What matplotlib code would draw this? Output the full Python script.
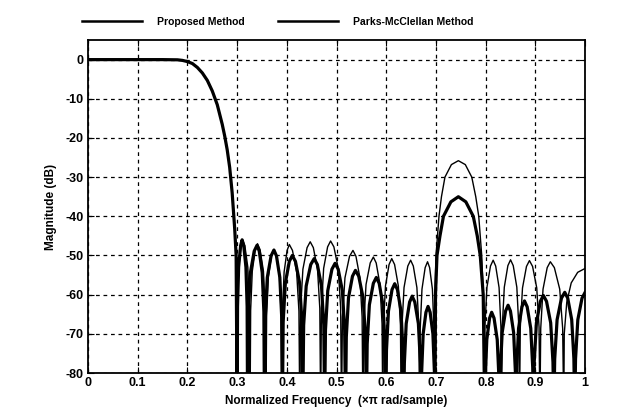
import numpy as np
from matplotlib import pyplot as plt

# passband + transition, same for both designs
passband_f = [0.0, 0.05, 0.1, 0.15, 0.18, 0.19, 0.2, 0.21, 0.22, 0.23, 0.24, 0.25,
              0.26, 0.27, 0.275, 0.28, 0.285, 0.29, 0.295, 0.298]
passband_db = [0, 0, 0, 0, -0.05, -0.2, -0.5, -1.0, -2.0, -3.4, -5.3, -8.0,
               -11.5, -16.5, -19.5, -23.0, -27.5, -34.0, -43.0, -50.0]

# stopband of the proposed method (thick line), one row per lobe
proposed_f = [0.300, 0.3008, 0.303, 0.307, 0.310, 0.3133, 0.3177, 0.3201,
              0.321, 0.3225, 0.3267, 0.3343, 0.340, 0.3445, 0.3505, 0.3538,
              0.355, 0.3565, 0.3607, 0.3683, 0.374, 0.3791, 0.3859, 0.3896,
              0.391, 0.3926, 0.397, 0.405, 0.411, 0.4173, 0.4257, 0.4303,
              0.432, 0.4338, 0.4389, 0.4481, 0.455, 0.4613, 0.4697, 0.4743,
              0.476, 0.4777, 0.4823, 0.4907, 0.497, 0.5033, 0.5117, 0.5163,
              0.518, 0.5196, 0.524, 0.532, 0.538, 0.5446, 0.5534, 0.5582,
              0.560, 0.5616, 0.566, 0.574, 0.580, 0.5857, 0.5933, 0.5975,
              0.599, 0.6004, 0.6044, 0.6116, 0.617, 0.6224, 0.6296, 0.6336,
              0.635, 0.6364, 0.6401, 0.6469, 0.652, 0.6574, 0.6646, 0.6686,
              0.670, 0.6711, 0.6742, 0.6798, 0.684, 0.6882, 0.6938, 0.6969,
              0.698, 0.699, 0.702, 0.708, 0.715, 0.730, 0.745, 0.760, 0.775, 0.783, 0.789, 0.795,
              0.798, 0.7991, 0.8022, 0.8078, 0.812, 0.8168, 0.8232, 0.8267,
              0.828, 0.8294, 0.8331, 0.8399, 0.845, 0.8498, 0.8562, 0.8597,
              0.861, 0.8624, 0.8661, 0.8729, 0.878, 0.8834, 0.8906, 0.8946,
              0.896, 0.8976, 0.902, 0.910, 0.916, 0.9223, 0.9307, 0.9353,
              0.937, 0.9388, 0.9436, 0.9524, 0.959, 0.965, 0.973, 0.9774,
              0.979, 0.9807, 0.9853, 0.9937, 1.000]
proposed_db = [-90, -63, -53, -47.5, -46, -47.5, -53, -63,
               -90, -64.4, -54.4, -48.9, -47.4, -48.9, -54.4, -64.4,
               -90, -65.6, -55.6, -50.1, -48.6, -50.1, -55.6, -65.6,
               -90, -67, -57, -51.5, -50, -51.5, -57, -67,
               -90, -67.8, -57.8, -52.3, -50.8, -52.3, -57.8, -67.8,
               -90, -69, -59, -53.5, -52, -53.5, -59, -69,
               -90, -70.8, -60.8, -55.3, -53.8, -55.3, -60.8, -70.8,
               -90, -72.6, -62.6, -57.1, -55.6, -57.1, -62.6, -72.6,
               -90, -74.2, -64.2, -58.7, -57.2, -58.7, -64.2, -74.2,
               -90, -77.4, -67.4, -61.9, -60.4, -61.9, -67.4, -77.4,
               -90, -80, -70, -64.5, -63, -64.5, -70, -80,
               -90, -60, -50, -45, -40, -36.3, -35, -36.3, -40, -45, -50, -60,
               -90, -81.5, -71.5, -66, -64.5, -66, -71.5, -81.5,
               -90, -79.7, -69.7, -64.2, -62.7, -64.2, -69.7, -79.7,
               -90, -78.6, -68.6, -63.1, -61.6, -63.1, -68.6, -78.6,
               -90, -77.2, -67.2, -61.7, -60.2, -61.7, -67.2, -77.2,
               -90, -76.4, -66.4, -60.9, -59.4, -60.9, -66.4, -76.4,
               -90, -76.4, -66.4, -60.9, -59.4]

# stopband of Parks-McClellan (thin line)
pm_f = [0.300, 0.3009, 0.3033, 0.3077, 0.311, 0.3155, 0.3215, 0.3248,
        0.326, 0.3272, 0.3305, 0.3365, 0.341, 0.3461, 0.3529, 0.3566,
        0.358, 0.3593, 0.3628, 0.3692, 0.374, 0.3788, 0.3852, 0.3887,
        0.390, 0.3912, 0.3945, 0.4005, 0.405, 0.4113, 0.4197, 0.4243,
        0.426, 0.4277, 0.4323, 0.4407, 0.447, 0.4533, 0.4617, 0.4663,
        0.468, 0.4696, 0.474, 0.482, 0.488, 0.4946, 0.5034, 0.5082,
        0.510, 0.5118, 0.5169, 0.5261, 0.533, 0.539, 0.547, 0.5514,
        0.553, 0.5547, 0.5593, 0.5677, 0.574, 0.5797, 0.5873, 0.5915,
        0.593, 0.5944, 0.5984, 0.6056, 0.611, 0.6167, 0.6243, 0.6285,
        0.630, 0.6315, 0.6357, 0.6433, 0.649, 0.6544, 0.6616, 0.6656,
        0.667, 0.6683, 0.6718, 0.6782, 0.683, 0.6872, 0.6928, 0.6959,
        0.697, 0.698, 0.700, 0.706, 0.711, 0.718, 0.731, 0.745, 0.759, 0.772, 0.780, 0.786, 0.792, 0.795,
        0.797, 0.7984, 0.8024, 0.8096, 0.815, 0.8201, 0.8269, 0.8306,
        0.832, 0.8334, 0.8374, 0.8446, 0.850, 0.8554, 0.8626, 0.8666,
        0.868, 0.8696, 0.874, 0.882, 0.888, 0.8943, 0.9027, 0.9073,
        0.909, 0.9107, 0.9153, 0.9237, 0.930, 0.9381, 0.9489, 0.9548,
        0.957, 0.958, 0.963, 0.972, 0.985, 1.000]
pm_db = [-90, -63, -53, -47.5, -46, -47.5, -53, -63,
         -90, -64, -54, -48.5, -47, -48.5, -54, -64,
         -90, -65.5, -55.5, -50, -48.5, -50, -55.5, -65.5,
         -90, -64.2, -54.2, -48.7, -47.2, -48.7, -54.2, -64.2,
         -90, -63.5, -53.5, -48, -46.5, -48, -53.5, -63.5,
         -90, -63.3, -53.3, -47.8, -46.3, -47.8, -53.3, -63.3,
         -90, -65.7, -55.7, -50.2, -48.7, -50.2, -55.7, -65.7,
         -90, -67.4, -57.4, -51.9, -50.4, -51.9, -57.4, -67.4,
         -90, -67.8, -57.8, -52.3, -50.8, -52.3, -57.8, -67.8,
         -90, -68.2, -58.2, -52.7, -51.2, -52.7, -58.2, -68.2,
         -90, -68.6, -58.6, -53.1, -51.6, -53.1, -58.6, -68.6,
         -90, -60, -50, -40, -35, -30, -26.8, -25.8, -26.8, -30, -35, -40, -50, -60,
         -90, -68.2, -58.2, -52.7, -51.2, -52.7, -58.2, -68.2,
         -90, -68.1, -58.1, -52.6, -51.1, -52.6, -58.1, -68.1,
         -90, -68.3, -58.3, -52.8, -51.3, -52.8, -58.3, -68.3,
         -90, -68.6, -58.6, -53.1, -51.6, -53.1, -58.6, -68.6,
         -90, -70, -62, -57, -54.3, -53.3]

x_ticks = [0, 0.1, 0.2, 0.3, 0.4, 0.5, 0.6, 0.7, 0.8, 0.9, 1]
x_labels = ['0', '0.1', '0.2', '0.3', '0.4', '0.5', '0.6', '0.7', '0.8', '0.9', '1']
y_ticks = [0, -10, -20, -30, -40, -50, -60, -70, -80]

plt.rcParams['font.family'] = ['Liberation Sans', 'DejaVu Sans']
plt.rcParams['font.weight'] = 'bold'
plt.rcParams['axes.unicode_minus'] = False

f_prop = np.concatenate([passband_f, proposed_f])
db_prop = np.concatenate([passband_db, proposed_db])
f_pm = np.concatenate([passband_f, pm_f])
db_pm = np.concatenate([passband_db, pm_db])

fig = plt.figure(figsize=(6.39, 4.17), dpi=100)
ax = fig.add_axes([0.1377, 0.1055, 0.778, 0.7985])

ax.plot(f_prop, db_prop, color='black', lw=2.3, label='Proposed Method')
ax.plot(f_pm, db_pm, color='black', lw=1.0, label='Parks-McClellan Method')

ax.set_xlim(0, 1)
ax.set_ylim(-80, 5)
ax.set_xticks(x_ticks)
ax.set_xticklabels(x_labels)
ax.set_yticks(y_ticks)
ax.grid(True, color='black', linestyle=(0, (3, 3)), lw=0.9)
ax.tick_params(direction='in', top=True, right=True, labelsize=9, length=4, pad=3)
for s in ax.spines.values():
    s.set_linewidth(1.3)

ax.set_xlabel('Normalized Frequency  (\u00d7\u03c0 rad/sample)', fontsize=8.5,
              fontweight='bold', labelpad=4)
ax.set_ylabel('Magnitude (dB)', fontsize=8.5, fontweight='bold', labelpad=6)

# legend sits above the axes, a bit left of centre like in the paper
leg = fig.legend(loc='center', bbox_to_anchor=(0.434, 0.947), ncol=2, frameon=False,
                 fontsize=7.5, handlelength=5.8, columnspacing=3.2, handletextpad=1.4)
for h in leg.legend_handles:
    h.set_linewidth(1.8)

plt.savefig('out.png', dpi=100)
plt.close()
